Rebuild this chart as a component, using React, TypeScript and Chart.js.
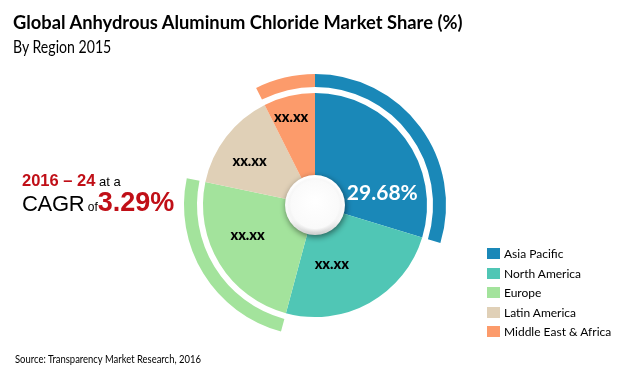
import React, { useEffect, useRef } from "react";
import { Chart, registerables } from "chart.js";

Chart.register(...registerables);

const regions = ["Asia Pacific", "North America", "Europe", "Latin America", "Middle East & Africa"];
const shares = [29.68, 24.5, 24.1, 14.3, 7.42];
const sliceLabels = ["29.68%", "xx.xx", "xx.xx", "xx.xx", "xx.xx"];
const regionColors = ["#1a88b8", "#50c6b5", "#a3e39c", "#e0d0b7", "#fc9b6b"];
const highlighted = [true, false, true, false, true];

const titleText = "Global Anhydrous Aluminum Chloride Market Share (%)";
const subtitleText = "By Region 2015";
const periodText = "2016 \u2013 24";
const cagrValue = "3.29%";
const sourceText = "Source: Transparency Market Research, 2016";

const TRANSPARENT = "rgba(0,0,0,0)";
const RED = "#c00f17";
const UI_FONT = "Lato, 'Open Sans', sans-serif";
const ARIAL = "'Liberation Sans', Arial, sans-serif";

// angle fraction within slice, radius fraction of slice outer radius
const labelPlacement: [number, number][] = [
  [0.75, 0.61],
  [0.65, 0.55],
  [0.585, 0.66],
  [0.42, 0.7],
  [0.43, 0.81],
];

const decorPlugin = {
  id: "pieDecor",
  afterDatasetsDraw(chart: any) {
    const meta = chart.getDatasetMeta(2);
    const ctx: CanvasRenderingContext2D = chart.ctx;
    const arcs = meta.data;
    if (!arcs.length) return;
    ctx.save();
    arcs.forEach((arc: any, i: number) => {
      const p = arc.getProps(["x", "y", "startAngle", "endAngle", "outerRadius"], true);
      const [fa, fr] = labelPlacement[i];
      const ang = p.startAngle + (p.endAngle - p.startAngle) * fa;
      const r = p.outerRadius * fr;
      const lx = p.x + Math.cos(ang) * r;
      const ly = p.y + Math.sin(ang) * r;
      ctx.textAlign = "center";
      ctx.textBaseline = "middle";
      if (i === 0) {
        ctx.font = "bold 21px " + UI_FONT;
        ctx.fillStyle = "#ffffff";
      } else {
        ctx.font = "900 14.5px " + UI_FONT;
        ctx.fillStyle = "#000000";
      }
      ctx.fillText(sliceLabels[i], lx, ly);
    });
    // glossy centre disc
    const c = arcs[0].getProps(["x", "y"], true);
    const rad = 30;
    ctx.shadowColor = "rgba(0,0,0,0.5)";
    ctx.shadowBlur = 6;
    ctx.shadowOffsetX = 1;
    ctx.shadowOffsetY = 2;
    const g = ctx.createLinearGradient(0, c.y - rad, 0, c.y + rad);
    g.addColorStop(0, "#ffffff");
    g.addColorStop(0.75, "#f7f7f7");
    g.addColorStop(1, "#cfcfcf");
    ctx.fillStyle = g;
    ctx.beginPath();
    ctx.arc(c.x, c.y, rad, 0, Math.PI * 2);
    ctx.fill();
    ctx.shadowColor = TRANSPARENT;
    const g2 = ctx.createRadialGradient(c.x, c.y - 4, 2, c.x, c.y, rad - 2);
    g2.addColorStop(0, "rgba(255,255,255,1)");
    g2.addColorStop(0.85, "rgba(250,250,250,1)");
    g2.addColorStop(1, "rgba(235,235,235,0)");
    ctx.fillStyle = g2;
    ctx.beginPath();
    ctx.arc(c.x, c.y, rad - 2, 0, Math.PI * 2);
    ctx.fill();
    ctx.restore();
  },
};

export default function App() {
  const canvasRef = useRef<HTMLCanvasElement | null>(null);

  useEffect(() => {
    const canvas = canvasRef.current;
    if (!canvas) return;
    const chart = new Chart(canvas, {
      type: "doughnut",
      data: {
        labels: regions,
        datasets: [
          {
            data: shares,
            backgroundColor: regionColors.map((c, i) => (highlighted[i] ? c : TRANSPARENT)),
            borderWidth: 0,
            weight: 13,
          },
          {
            data: shares,
            backgroundColor: TRANSPARENT,
            borderWidth: 0,
            weight: 6,
          },
          {
            data: shares,
            backgroundColor: regionColors,
            borderWidth: 0,
            weight: 84,
          },
        ],
      },
      options: {
        animation: false,
        responsive: false,
        cutout: 28,
        layout: { padding: { left: 184, right: 174, top: 74, bottom: 36 } },
        plugins: {
          legend: { display: false },
          tooltip: { enabled: false },
        },
        events: [],
      },
      plugins: [decorPlugin],
    } as any);
    return () => chart.destroy();
  }, []);

  return (
    <div
      style={{
        position: "absolute",
        left: 0,
        top: 0,
        width: 620,
        height: 372,
        background: "#ffffff",
        overflow: "hidden",
      }}
    >
      <canvas ref={canvasRef} width={620} height={372} style={{ position: "absolute", left: 0, top: 0 }} />
      <div
        style={{
          position: "absolute",
          left: 13,
          top: 10,
          fontFamily: UI_FONT,
          fontWeight: 700,
          fontSize: 19.5,
          lineHeight: "24px",
          color: "#000",
          whiteSpace: "nowrap",
          transform: "scaleX(0.94)",
          transformOrigin: "left top",
        }}
      >
        {titleText}
      </div>
      <div
        style={{
          position: "absolute",
          left: 13,
          top: 36,
          fontFamily: UI_FONT,
          fontSize: 17,
          lineHeight: "22px",
          color: "#000",
          whiteSpace: "nowrap",
          transform: "scaleX(0.83)",
          transformOrigin: "left top",
        }}
      >
        {subtitleText}
      </div>
      <div
        style={{
          position: "absolute",
          left: 22,
          top: 170,
          fontFamily: ARIAL,
          lineHeight: "20px",
          whiteSpace: "nowrap",
        }}
      >
        <span style={{ color: RED, fontWeight: 700, fontSize: 16.5 }}>{periodText}</span>
        <span style={{ color: "#000", fontSize: 13 }}> at a</span>
      </div>
      <div
        style={{
          position: "absolute",
          left: 22,
          top: 188,
          fontFamily: ARIAL,
          lineHeight: "28px",
          whiteSpace: "nowrap",
        }}
      >
        <span style={{ color: "#000", fontSize: 22, letterSpacing: -0.3 }}>CAGR</span>
        <span style={{ color: "#000", fontSize: 12 }}> of</span>
        <span style={{ color: RED, fontWeight: 700, fontSize: 27 }}>{cagrValue}</span>
      </div>
      {regions.map((r, i) => (
        <div
          key={r}
          style={{
            position: "absolute",
            left: 487,
            top: 246 + i * 19.6,
            height: 15,
            display: "flex",
            alignItems: "center",
            fontFamily: UI_FONT,
            fontSize: 12,
            color: "#000",
            whiteSpace: "nowrap",
          }}
        >
          <span style={{ display: "inline-block", width: 13, height: 11, background: regionColors[i], marginRight: 4 }} />
          <span>{r}</span>
        </div>
      ))}
      <div
        style={{
          position: "absolute",
          left: 15,
          top: 353,
          fontFamily: UI_FONT,
          fontSize: 10.5,
          lineHeight: "13px",
          color: "#000",
          whiteSpace: "nowrap",
          transform: "scaleX(0.9)",
          transformOrigin: "left top",
        }}
      >
        {sourceText}
      </div>
    </div>
  );
}
